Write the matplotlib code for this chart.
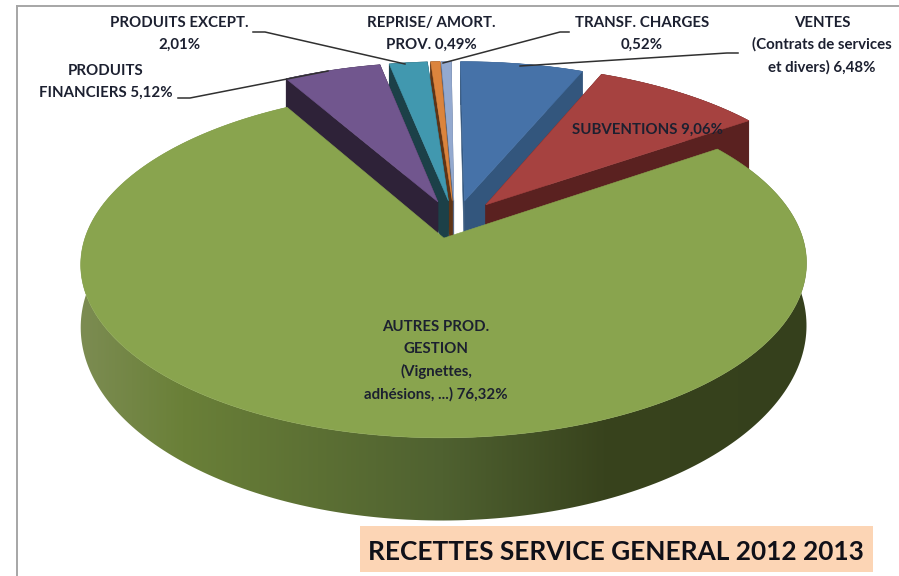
# Recettes service general 2012 2013 - exploded 3D pie
import numpy as np
import matplotlib
matplotlib.use('Agg')
import matplotlib.pyplot as plt
from matplotlib.colors import LinearSegmentedColormap
from matplotlib.patches import Polygon, Rectangle

# Slice names and shares, clockwise from 12 o'clock
names = ['VENTES', 'SUBVENTIONS', 'AUTRES PROD.', 'PRODUITS FIN.', 'PRODUITS EXCEPT.', 'REPRISE', 'TRANSF.']
shares = [6.48, 9.06, 76.32, 5.12, 2.01, 0.49, 0.52]
top_colors = ['#4672a8', '#a64240', '#89a44e', '#71568e', '#4198af', '#db843d', '#93a9cf']
wall_colors = ['#33567d', '#5a2120', '#4f6130', '#2e2238', '#1c4048', '#5e3416', '#5a6a85']

# Labels: text, centre x, centre y (pixels)
label_texts = ['PRODUITS EXCEPT.\n2,01%', 'PRODUITS\nFINANCIERS 5,12%', 'REPRISE/ AMORT.\nPROV. 0,49%',
               'TRANSF. CHARGES\n0,52%', 'VENTES\n(Contrats de services\net divers) 6,48%',
               'SUBVENTIONS 9,06%', 'AUTRES PROD.\nGESTION\n(Vignettes,\nadhésions, ...) 76,32%']
label_x = [179, 106, 431, 642, 822, 648, 436]
label_y = [34, 82, 34, 34, 45, 130, 361]

# Leader lines, pixels
leaders = [[(178, 98), (190, 98), (328, 71)],
           [(253, 32), (265, 32), (405, 64)],
           [(569, 32), (560, 32), (443, 63)],
           [(738, 53), (727, 53), (520, 66)]]

# Perspective constants for the pie plane
CX, CY = 455, 219.3
A, B, K = 353, 164.6, 0.146
DEPTH = 58
EXPLODE_U, EXPLODE_V = 0.14, 0.115
START_DEG = -0.5


def project(u, v, z=0.0):
    '''Map pie plane coords to pixels, z=1 is the bottom of the pie'''
    den = 1 + K * v
    return CX + A * u / den, CY - B * v / den + z * DEPTH / den ** 2


def add_poly(ax, xs, ys, color, zorder):
    ax.fill(xs, ys, facecolor=color, edgecolor=color, linewidth=0.4, zorder=zorder)


fig = plt.figure(figsize=(8.99, 5.76), dpi=100)
ax = fig.add_axes([0, 0, 1, 1])
ax.set_xlim(0, 899)
ax.set_ylim(576, 0)
ax.axis('off')

# Frame lines at top and left
ax.plot([17, 17], [6, 576], color='#a6a6a6', linewidth=1.4)
ax.plot([17, 899], [6, 6], color='#a6a6a6', linewidth=1.4)

# Slice angles in radians, clockwise from the top
edges = np.radians(np.concatenate([[0], np.cumsum(shares)]) * 3.6 + START_DEG)
green_wall = LinearSegmentedColormap.from_list(
    'green_wall', [(0.0, '#7c8c52'), (0.14, '#6a8038'), (0.5, '#4f6130'), (0.72, '#38431d'), (1.0, '#35401c')])

# Back slices first, the big green one last
order = [0, 6, 5, 4, 3, 1, 2]
for z, i in enumerate(order):
    t0, t1 = edges[i], edges[i + 1]
    mid = (t0 + t1) / 2
    u0, v0 = EXPLODE_U * np.sin(mid), EXPLODE_V * np.cos(mid)
    angles = np.linspace(t0, t1, max(int(np.degrees(t1 - t0)), 4) + 1)
    rim_u = u0 + np.sin(angles)
    rim_v = v0 + np.cos(angles)

    # Radial walls
    if i != 2:
        for t in (t0, t1):
            ru, rv = u0 + np.sin(t), v0 + np.cos(t)
            x1, y1 = project(u0, v0)
            x2, y2 = project(ru, rv)
            x3, y3 = project(ru, rv, 1)
            x4, y4 = project(u0, v0, 1)
            add_poly(ax, [x1, x2, x3, x4], [y1, y2, y3, y4], wall_colors[i], 2 + z)

    # Outer wall, the green one is shaded from left to right
    up_x, up_y = project(rim_u, rim_v)
    low_x, low_y = project(rim_u, rim_v, 1)
    wall_x = np.concatenate([up_x, low_x[::-1]])
    wall_y = np.concatenate([up_y, low_y[::-1]])
    if i == 2:
        shade = np.linspace(0, 1, 256).reshape(1, -1)
        img = ax.imshow(shade, cmap=green_wall, extent=(80, 807, 576, 0), aspect='auto', zorder=2 + z)
        clip = Polygon(np.column_stack([wall_x, wall_y]), transform=ax.transData)
        img.set_clip_path(clip)
    else:
        add_poly(ax, wall_x, wall_y, wall_colors[i], 2 + z)

    # Top surface
    top_u = np.concatenate([[u0], rim_u])
    top_v = np.concatenate([[v0], rim_v])
    tx, ty = project(top_u, top_v)
    add_poly(ax, tx, ty, top_colors[i], 2.5 + z)

ax.set_xlim(0, 899)
ax.set_ylim(576, 0)

# Leader lines
for line in leaders:
    ax.plot([p[0] for p in line], [p[1] for p in line], color='#303030', linewidth=1.1, zorder=20)

# Labels
for text, x, y in zip(label_texts, label_x, label_y):
    ax.text(x, y, text, ha='center', va='center', family='Lato', fontweight='bold',
            fontsize=10.8, linespacing=1.68, color='#1c2030', zorder=21)

# Title box
ax.add_patch(Rectangle((360, 526), 513, 46, facecolor='#fcd5b5', edgecolor='none', zorder=22))
ax.text(616, 551.5, 'RECETTES SERVICE GENERAL 2012 2013', ha='center', va='center', family='Lato',
        fontweight='bold', fontsize=18.9, color='#101018', zorder=23)

fig.savefig('out.png', dpi=100)
